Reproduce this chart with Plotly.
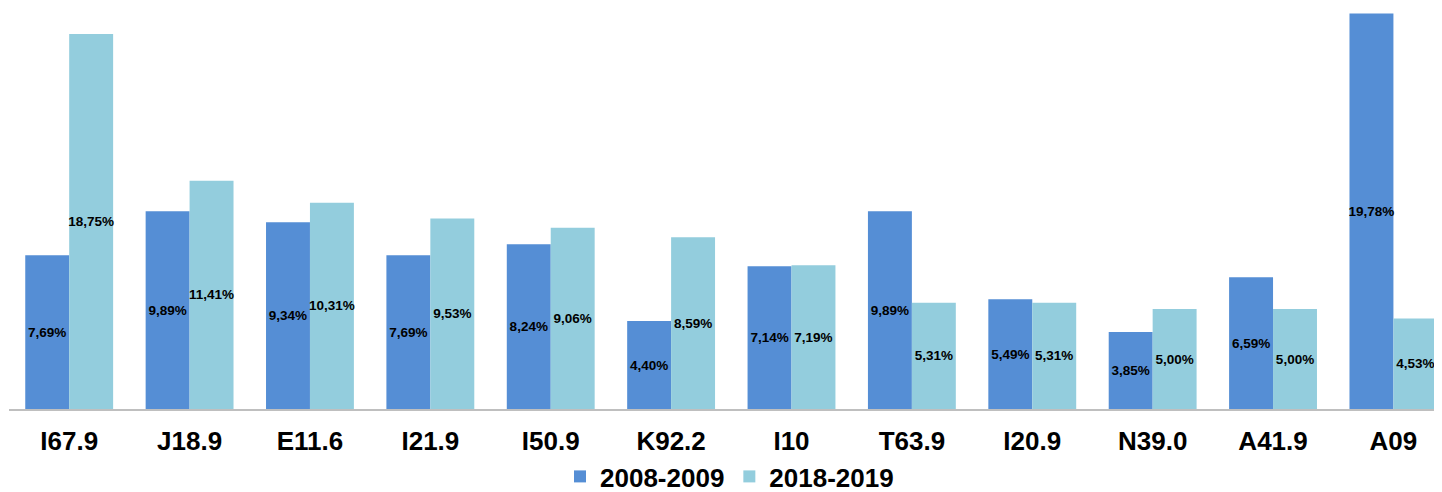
import plotly.graph_objects as go

categories = ["I67.9", "J18.9", "E11.6", "I21.9", "I50.9", "K92.2", "I10", "T63.9", "I20.9", "N39.0", "A41.9", "A09"]
series_2008 = [7.69, 9.89, 9.34, 7.69, 8.24, 4.40, 7.14, 9.89, 5.49, 3.85, 6.59, 19.78]
series_2018 = [18.75, 11.41, 10.31, 9.53, 9.06, 8.59, 7.19, 5.31, 5.31, 5.00, 5.00, 4.53]
series_names = ["2008-2009", "2018-2019"]


def fmt(v):
    return f"{v:.2f}".replace(".", ",") + "%"


FONT = "Liberation Sans, Arial, sans-serif"
fig = go.Figure()
for name, vals, color in [(series_names[0], series_2008, "#558ED5"),
                          (series_names[1], series_2018, "#93CDDD")]:
    fig.add_trace(go.Bar(
        x=categories, y=vals, name=name,
        marker=dict(color=color, line=dict(width=0)),
        text=[fmt(v) for v in vals],
        textposition="inside", insidetextanchor="middle", textangle=0,
        textfont=dict(family=FONT, size=13.5, color="black", weight="bold"),
        cliponaxis=False,
    ))

fig.update_layout(
    width=1442, height=492,
    margin=dict(l=1, r=0, t=1, b=74),
    paper_bgcolor="white", plot_bgcolor="white",
    barmode="group", bargap=0.27, bargroupgap=0,
    uniformtext=dict(minsize=13.5, mode="show"),
    showlegend=True,
    legend=dict(orientation="h", x=0.5, xanchor="center", y=-0.169, yanchor="middle",
                font=dict(family=FONT, size=26, color="black", weight="bold"),
                itemwidth=30, tracegroupgap=0),
    xaxis=dict(range=[-0.5, 11.47], showline=True, linecolor="#BFBFBF", linewidth=1.5,
               ticks="", showgrid=False, ticklabelstandoff=8,
               tickfont=dict(family=FONT, size=26, color="black", weight="bold")),
    yaxis=dict(range=[0, 20], visible=False, showgrid=False, zeroline=False),
)

fig.write_html("out.html")
